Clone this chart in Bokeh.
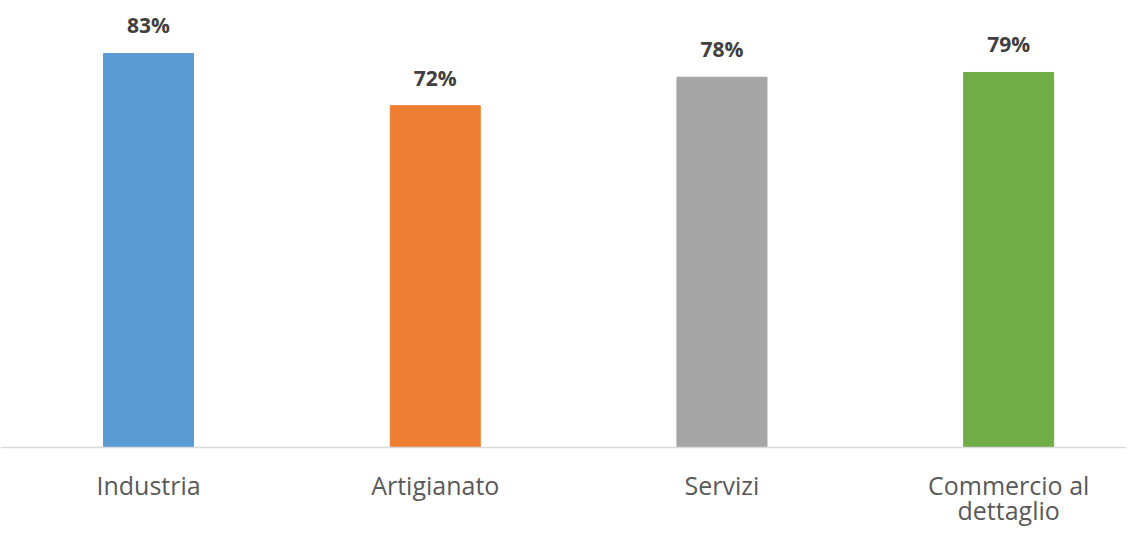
from bokeh.plotting import figure
from bokeh.models import Range1d, ColumnDataSource, Span
from bokeh.core.properties import value
from bokeh.embed import file_html
from bokeh.resources import INLINE

categories = ["Industria", "Artigianato", "Servizi", "Commercio al\ndettaglio"]
values = [83, 72, 78, 79]
value_labels = ["83%", "72%", "78%", "79%"]
colors = ["#5B9BD5", "#ED7D31", "#A5A5A5", "#70AD47"]

xpos = [i + 0.5 for i in range(len(categories))]
line1 = [c.split("\n")[0] for c in categories]
line2 = [c.split("\n")[1] if "\n" in c else "" for c in categories]

src = ColumnDataSource(dict(x=xpos, top=values, color=colors, lab=value_labels,
                            l1=line1, l2=line2, zero=[0] * len(values)))

p = figure(width=1126, height=526, output_backend="svg", toolbar_location=None,
           x_range=Range1d(-0.0164, 3.911), y_range=Range1d(-16.64, 94.16),
           min_border=0, outline_line_color=None)
p.axis.visible = False
p.grid.visible = False

p.vbar(x="x", top="top", bottom=0, width=0.314, color="color", source=src)

p.add_layout(Span(location=0, dimension="width", line_color="#D9D9D9", line_width=1.5))

p.text(x="x", y="top", text="lab", source=src, text_align="center", text_baseline="middle",
       y_offset=-28, text_font=value("Open Sans"), text_font_style="bold",
       text_font_size="21px", text_color="#404040")

for txt, off in (("l1", 37), ("l2", 62)):
    p.text(x="x", y="zero", text=txt, source=src, text_align="center", text_baseline="middle",
           y_offset=off, text_font=value("Open Sans"), text_font_size="25px",
           text_color="#595959")

open("out.html", "w").write(file_html(p, INLINE))
